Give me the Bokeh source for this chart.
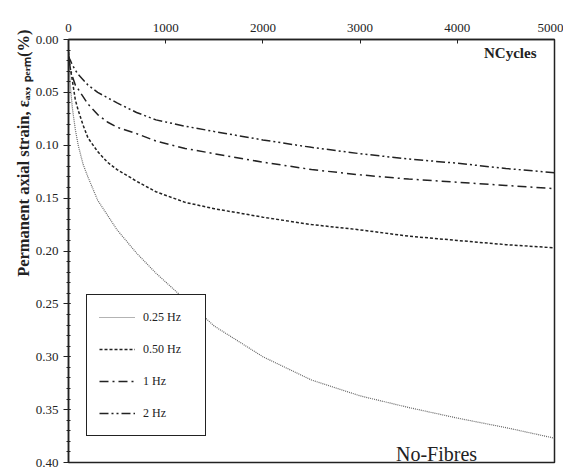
import math
from bokeh.plotting import figure
from bokeh.models import (Range1d, FixedTicker, PrintfTickFormatter, Label,
                          Legend, LegendItem, Title)
from bokeh.embed import file_html
from bokeh.resources import INLINE

# ---- data ----
cycles = [0, 10, 20, 40, 70, 100, 150, 200, 300, 400, 500, 700, 900,
          1200, 1500, 2000, 2500, 3000, 3500, 4000, 4500, 5000]
strain_025hz = [0.000, 0.030, 0.045, 0.065, 0.085, 0.100, 0.118, 0.130, 0.152,
                0.166, 0.180, 0.202, 0.221, 0.246, 0.271, 0.300, 0.322, 0.337,
                0.348, 0.358, 0.367, 0.377]
strain_050hz = [0.012, 0.022, 0.028, 0.039, 0.057, 0.067, 0.081, 0.093, 0.106,
                0.116, 0.123, 0.134, 0.144, 0.154, 0.160, 0.168, 0.175, 0.180,
                0.186, 0.190, 0.194, 0.197]
strain_1hz = [0.018, 0.022, 0.028, 0.035, 0.043, 0.047, 0.054, 0.061, 0.071,
              0.078, 0.083, 0.089, 0.096, 0.103, 0.108, 0.116, 0.123, 0.128,
              0.132, 0.135, 0.138, 0.141]
strain_2hz = [0.015, 0.018, 0.020, 0.024, 0.029, 0.033, 0.038, 0.043, 0.050,
              0.055, 0.060, 0.069, 0.076, 0.082, 0.087, 0.095, 0.102, 0.108,
              0.113, 0.117, 0.122, 0.126]
series_labels = ["0.25 Hz", "0.50 Hz", "1 Hz", "2 Hz"]
x_ticks = [0, 1000, 2000, 3000, 4000, 5000]
y_ticks = [0.00, 0.05, 0.10, 0.15, 0.20, 0.25, 0.30, 0.35, 0.40]
y_minor = [i / 100 for i in range(41)]
y_title = "Permanent axial strain, \u03b5\u2090\u2093, \u209a\u2091\u1d63\u2098(%)"

FONT = "Liberation Serif"
INK = "#222222"

p = figure(width=563, height=470, output_backend="svg", toolbar_location=None,
           x_range=Range1d(0, 5000), y_range=Range1d(0.40, 0.0),
           x_axis_location="above",
           min_border_left=68, min_border_right=9,
           min_border_top=39, min_border_bottom=8)
p.xgrid.visible = False
p.ygrid.visible = False
p.outline_line_color = INK
p.outline_line_width = 1.5
p.outline_line_alpha = 1.0

xa = p.xaxis[0]
xa.ticker = FixedTicker(ticks=x_ticks)
xa.major_tick_in = 4
xa.major_tick_out = 0
xa.minor_tick_in = 0
xa.minor_tick_out = 0
xa.major_label_standoff = 8
xa.major_label_text_font = FONT
xa.major_label_text_font_size = "13px"
xa.major_label_text_color = INK
xa.axis_line_color = INK
xa.axis_line_width = 1.5
xa.major_tick_line_color = INK

ya = p.yaxis[0]
ya.ticker = FixedTicker(ticks=y_ticks, minor_ticks=y_minor)
ya.formatter = PrintfTickFormatter(format="%.2f")
ya.major_tick_in = 2
ya.major_tick_out = 5
ya.minor_tick_in = 2
ya.minor_tick_out = 2
ya.major_label_standoff = 5
ya.major_label_text_font = FONT
ya.major_label_text_font_size = "13px"
ya.major_label_text_color = INK
ya.axis_line_color = INK
ya.axis_line_width = 1.5
ya.major_tick_line_color = INK
ya.minor_tick_line_color = INK

r1 = p.line(cycles, strain_025hz, line_color="#666666", line_width=1.2, line_dash="1 1")
r2 = p.line(cycles, strain_050hz, line_color=INK, line_width=1.5, line_dash="3 2")
r3 = p.line(cycles, strain_1hz, line_color=INK, line_width=1.5, line_dash="9 4 2 4")
r4 = p.line(cycles, strain_2hz, line_color=INK, line_width=1.5, line_dash="9 3 2 3 2 3")

legend = Legend(items=[LegendItem(label=lab, renderers=[r])
                       for lab, r in zip(series_labels, [r1, r2, r3, r4])],
                location=(18, 26), margin=0, padding=12, spacing=12,
                glyph_height=20, glyph_width=36, label_standoff=8, label_width=50,
                border_line_color=INK, border_line_width=1.5, border_line_alpha=1.0,
                background_fill_color="white", background_fill_alpha=1.0,
                label_text_font=FONT, label_text_font_size="12px",
                label_text_color=INK)
p.add_layout(legend)

ytitle = Title(text=y_title, align="right", offset=-10, standoff=0,
               text_font=FONT, text_font_style="bold", text_font_size="16.5px",
               text_color=INK)
p.add_layout(ytitle, "left")

p.add_layout(Label(x=4815, y=0.0123, text="NCycles", text_align="right",
                   text_baseline="middle", text_font=FONT, text_font_style="bold",
                   text_font_size="15px", text_color=INK))
p.add_layout(Label(x=3786, y=0.392, text="No-Fibres", text_align="center",
                   text_baseline="alphabetic", text_font=FONT,
                   text_font_size="20px", text_color=INK))

open("out.html", "w").write(file_html(p, INLINE))
